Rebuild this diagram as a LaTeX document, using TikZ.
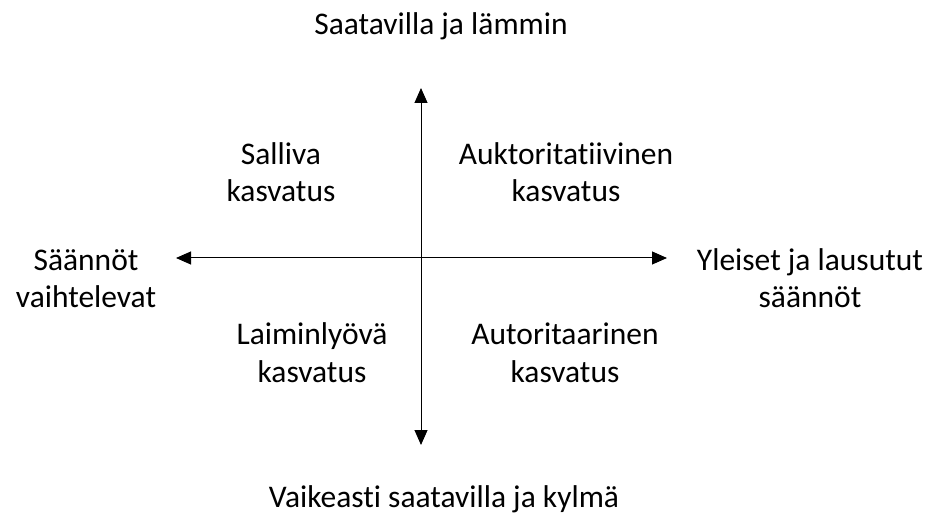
\documentclass[tikz,border=0pt]{standalone}
\usepackage{fontspec}
\setmainfont{Carlito}[Ligatures={NoCommon,TeX}]
\usetikzlibrary{arrows.meta}
\tikzset{
  lbl/.style={align=center,anchor=base,font=\fontsize{31.5}{37.5}\selectfont,inner sep=0pt},
  axis/.style={line width=1pt,{Triangle[length=15pt,width=13pt]}-{Triangle[length=15pt,width=13pt]}}
}
\begin{document}
\begin{tikzpicture}[x=1pt,y=-1pt]
\useasboundingbox (0,0) rectangle (926,521);
\coordinate (top) at (421,88);
\coordinate (bot) at (421,445);
\coordinate (lft) at (176,258);
\coordinate (rgt) at (667,258);

% base = baseline of the last line
\node[lbl] (n) at (441,35) {Saatavilla ja lämmin};
\node[lbl] (s) at (444,507) {Vaikeasti saatavilla ja kylmä};
\node[lbl] (w) at (86,308) {Säännöt\\vaihtelevat};
\node[lbl] (e) at (810,308) {Yleiset ja lausutut\\säännöt};
\node[lbl] (q2) at (281,202) {Salliva\\kasvatus};
\node[lbl] (q1) at (566,202) {Auktoritatiivinen\\kasvatus};
\node[lbl] (q3) at (312,382) {Laiminlyövä\\kasvatus};
\node[lbl] (q4) at (565,382) {Autoritaarinen\\kasvatus};

\draw[axis] (top)--(bot);
\draw[axis] (lft)--(rgt);
\end{tikzpicture}
\end{document}
